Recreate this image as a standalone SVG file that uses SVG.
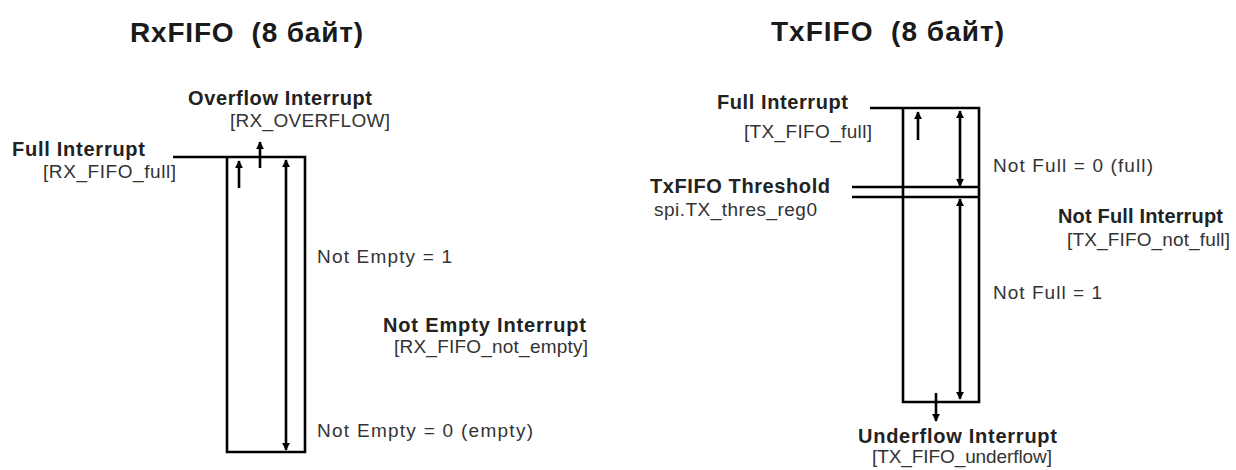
<svg xmlns="http://www.w3.org/2000/svg" width="1236" height="470" viewBox="0 0 1236 470">
<style>
.t{font-family:"Liberation Sans",Arial,sans-serif;font-weight:bold;font-size:28px;fill:#1a1a1a}
.b{font-family:"Liberation Sans",Arial,sans-serif;font-weight:bold;font-size:20px;fill:#222}
.r{font-family:"Liberation Sans",Arial,sans-serif;font-size:19px;fill:#333}
.ln{stroke:#000;stroke-width:2.6;fill:none}
.ar{stroke:#000;stroke-width:2.6;fill:none}
</style>
<defs>
<marker id="ah" viewBox="0 0 10 10" refX="9" refY="5" markerWidth="3.4" markerHeight="3" orient="auto-start-reverse" markerUnits="strokeWidth">
<path d="M0,0 L10,5 L0,10 z" fill="#000"/>
</marker>
</defs>
<rect width="1236" height="470" fill="#fff"/>

<g id="rx-title"><text class="t" x="130" y="42" textLength="233" xml:space="preserve">RxFIFO  (8 байт)</text></g>
<g id="rx-fifo"><path class="ln" d="M173,157 H305 V452 H227 V157"/></g>
<g id="rx-overflow"><text class="b" x="188" y="105" textLength="184">Overflow Interrupt</text><text class="r" x="230" y="127" textLength="160">[RX_OVERFLOW]</text></g>
<g id="rx-full"><text class="b" x="12" y="156" textLength="133">Full Interrupt</text><text class="r" x="43" y="178" textLength="133">[RX_FIFO_full]</text></g>
<g id="rx-ne1"><text class="r" x="317" y="263" textLength="135">Not Empty = 1</text></g>
<g id="rx-neint"><text class="b" x="383" y="332" textLength="203">Not Empty Interrupt</text><text class="r" x="394" y="353" textLength="194">[RX_FIFO_not_empty]</text></g>
<g id="rx-ne0"><text class="r" x="317" y="437" textLength="216">Not Empty = 0 (empty)</text></g>

<g id="tx-title"><text class="t" x="771" y="41" textLength="233" xml:space="preserve">TxFIFO  (8 байт)</text></g>
<g id="tx-fifo"><path class="ln" d="M870,108 H979 V402 H903 V108"/><path class="ln" d="M852,187 H979 M852,197 H979"/></g>
<g id="tx-full"><text class="b" x="717" y="109" textLength="131">Full Interrupt</text><text class="r" x="744" y="138" textLength="128">[TX_FIFO_full]</text></g>
<g id="tx-thres"><text class="b" x="650" y="193" textLength="180">TxFIFO Threshold</text><text class="r" x="654" y="216" textLength="163">spi.TX_thres_reg0</text></g>
<g id="tx-nf0"><text class="r" x="993" y="172" textLength="160">Not Full = 0 (full)</text></g>
<g id="tx-nfint"><text class="b" x="1058" y="223" textLength="165">Not Full Interrupt</text><text class="r" x="1067" y="246" textLength="163">[TX_FIFO_not_full]</text></g>
<g id="tx-nf1"><text class="r" x="993" y="299" textLength="109">Not Full = 1</text></g>
<g id="tx-under"><text class="b" x="858" y="443" textLength="199">Underflow Interrupt</text><text class="r" x="872" y="463" textLength="180">[TX_FIFO_underflow]</text></g>

<g id="connectors">
<line class="ar" x1="239" y1="188" x2="239" y2="161" marker-end="url(#ah)"/>
<line class="ar" x1="260" y1="168" x2="260" y2="142" marker-end="url(#ah)"/>
<line class="ar" x1="286" y1="160" x2="286" y2="450" marker-start="url(#ah)" marker-end="url(#ah)"/>
<line class="ar" x1="918" y1="140" x2="918" y2="112" marker-end="url(#ah)"/>
<line class="ar" x1="960" y1="111" x2="960" y2="186" marker-start="url(#ah)" marker-end="url(#ah)"/>
<line class="ar" x1="960" y1="199" x2="960" y2="399" marker-start="url(#ah)" marker-end="url(#ah)"/>
<line class="ar" x1="936" y1="393" x2="936" y2="421" marker-end="url(#ah)"/>
</g>
</svg>
